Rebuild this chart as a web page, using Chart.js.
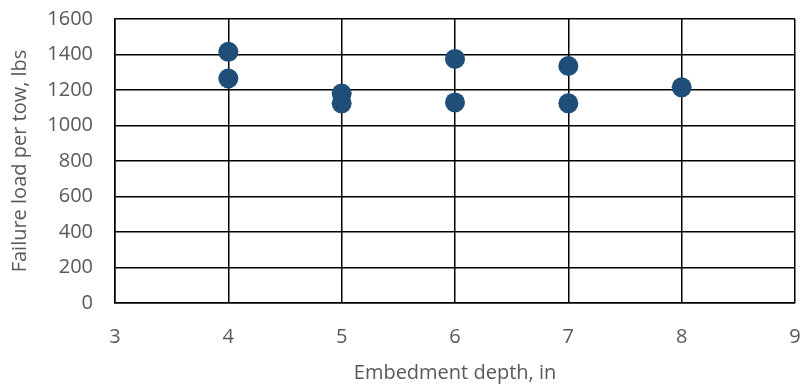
<!DOCTYPE html>
<html>
<head>
<meta charset="utf-8">
<script src="https://cdn.jsdelivr.net/npm/chart.js@4.4.1/dist/chart.umd.min.js"></script>
<style>
  html, body { margin: 0; padding: 0; background: #fff; }
  #wrap { width: 805px; height: 387px; }
</style>
</head>
<body>
<div id="wrap"><canvas id="chart" width="805" height="387"></canvas></div>
<script>
// embedment depth (in) and failure load (lbs)
const depths = [4, 4, 5, 5, 6, 6, 7, 7, 8];
const loads = [1415, 1265, 1180, 1125, 1375, 1130, 1335, 1125, 1215];

const xLabel = 'Embedment depth, in';
const yLabel = 'Failure load per tow, lbs';

const points = depths.map((d, i) => ({ x: d, y: loads[i] }));
const grey = '#595959';
const tickFont = { family: 'Open Sans', size: 20 };

new Chart(document.getElementById('chart'), {
    type: 'scatter',
    data: {
        datasets: [{
            data: points,
            backgroundColor: '#1F4E79',
            borderWidth: 0,
            pointRadius: 10,
            pointHoverRadius: 10
        }]
    },
    options: {
        responsive: false,
        animation: false,
        layout: { padding: { top: 19, right: 7, left: 0, bottom: 0 } },
        plugins: { legend: { display: false }, tooltip: { enabled: false } },
        scales: {
            x: {
                min: 3,
                max: 9,
                ticks: { stepSize: 1, color: grey, font: tickFont, padding: 22 },
                grid: { color: '#000', lineWidth: 1.5, drawTicks: false },
                border: { color: '#000', width: 1.5 },
                title: { display: true, text: xLabel, color: grey, font: tickFont, padding: { top: 2, bottom: 2 } },
                afterFit: scale => {
                    scale.height = 84;
                    scale.paddingLeft = 0;
                    scale.paddingRight = 0;
                }
            },
            y: {
                min: 0,
                max: 1600,
                ticks: { stepSize: 200, color: grey, font: tickFont, padding: 22,
                    callback: v => String(v) },
                grid: { color: '#000', lineWidth: 1.5, drawTicks: false },
                border: { color: '#000', width: 1.5 },
                title: { display: true, text: yLabel, color: grey, font: tickFont, padding: { top: 8, bottom: 8 } },
                afterFit: scale => {
                    scale.width = 115;
                    scale.paddingTop = 0;
                    scale.paddingBottom = 0;
                }
            }
        }
    }
});
</script>
</body>
</html>
